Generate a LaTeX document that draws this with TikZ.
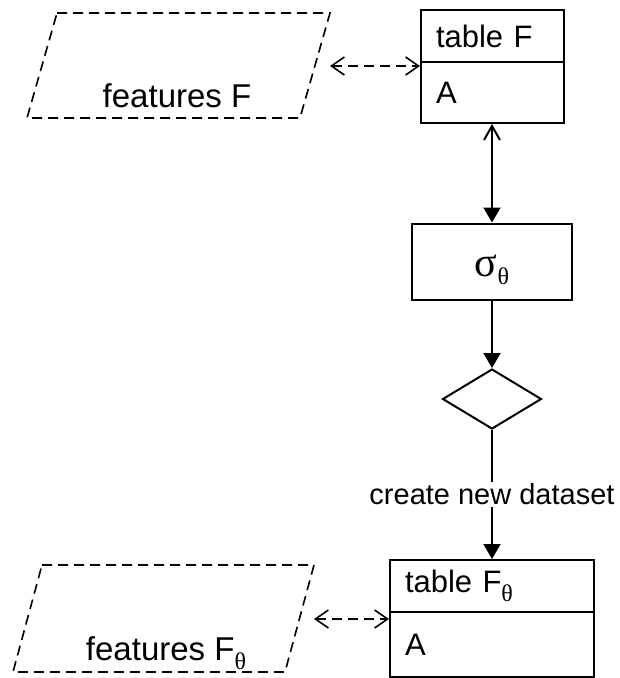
\documentclass[tikz,border=0pt]{standalone}
\usepackage{fontspec}
\setmainfont{Liberation Sans}
\newfontfamily\greekfont{Liberation Serif}
\usetikzlibrary{arrows.meta,shapes.geometric}
\newcommand{\thetasub}[2]{\raisebox{-#2}{\greekfont\fontsize{#1}{#1}\selectfont θ}}

\begin{document}
\begin{tikzpicture}[x=1pt,y=-1pt,line width=2pt,
    font=\fontsize{31}{34}\selectfont,
    cell/.style={draw,anchor=north west,align=left,inner xsep=15pt,inner ysep=0pt},
    featfont/.style={font=\fontsize{33}{36}\selectfont},
    dashline/.style={line width=1.6pt,dash pattern=on 10pt off 6pt},
    dasharr/.style={dashline,{Straight Barb[length=13pt,width=18pt]}-{Straight Barb[length=13pt,width=18pt]}},
    solidtip/.style={-{Triangle[length=15pt,width=17pt]}}]
    \useasboundingbox (0,0) rectangle (620,678);
    % features F, table F
    \draw[dashline] (57,13)--(330,13)--(300,118)--(27,118)--cycle;
    \node[featfont,anchor=base] (featF) at (177,107) {features F};
    \node[cell,text width=113pt,minimum height=52pt] (tabFhead) at (420,9) {table F};
    \node[cell,text width=113pt,minimum height=61pt] (tabFbody) at (420,61) {A};
    \coordinate (featFend) at (330,66);
    \draw[dasharr] (featFend)--(featFend -| tabFbody.west);
    % selection
    \node[draw,minimum width=160pt,minimum height=76pt,text height=36pt,text depth=7pt] (sig) at (492,261.5)
        {\greekfont\fontsize{42}{44}\selectfont σ\thetasub{24}{8pt}};
    \draw[{Straight Barb[length=14pt,width=16pt]}-{Triangle[length=15pt,width=17pt]}] (tabFbody.south -| sig.north)--(sig.north);
    \node[draw,diamond,minimum width=99pt,minimum height=60pt,inner sep=0pt] (dec) at (492,399) {};
    \draw[solidtip] (sig)--(dec);
    % features F_theta, table F_theta
    \node[cell,text width=174pt,minimum height=52pt] (tabGhead) at (389,559) {table F\thetasub{24}{9pt}};
    \node[cell,text width=174pt,minimum height=65pt] (tabGbody) at (389,611) {A};
    \draw[solidtip] (dec.south)--node[fill=white,inner sep=2pt,font=\fontsize{29}{32}\selectfont]{create new dataset}(dec.south |- tabGhead.north);
    \draw[dashline] (42,565)--(314,565)--(285,672)--(13,672)--cycle;
    \node[featfont,anchor=base] (featG) at (166,660) {features F\thetasub{24}{9pt}};
    \coordinate (featGend) at (314,619);
    \draw[dasharr] (featGend)--(featGend -| tabGbody.west);
\end{tikzpicture}
\end{document}
